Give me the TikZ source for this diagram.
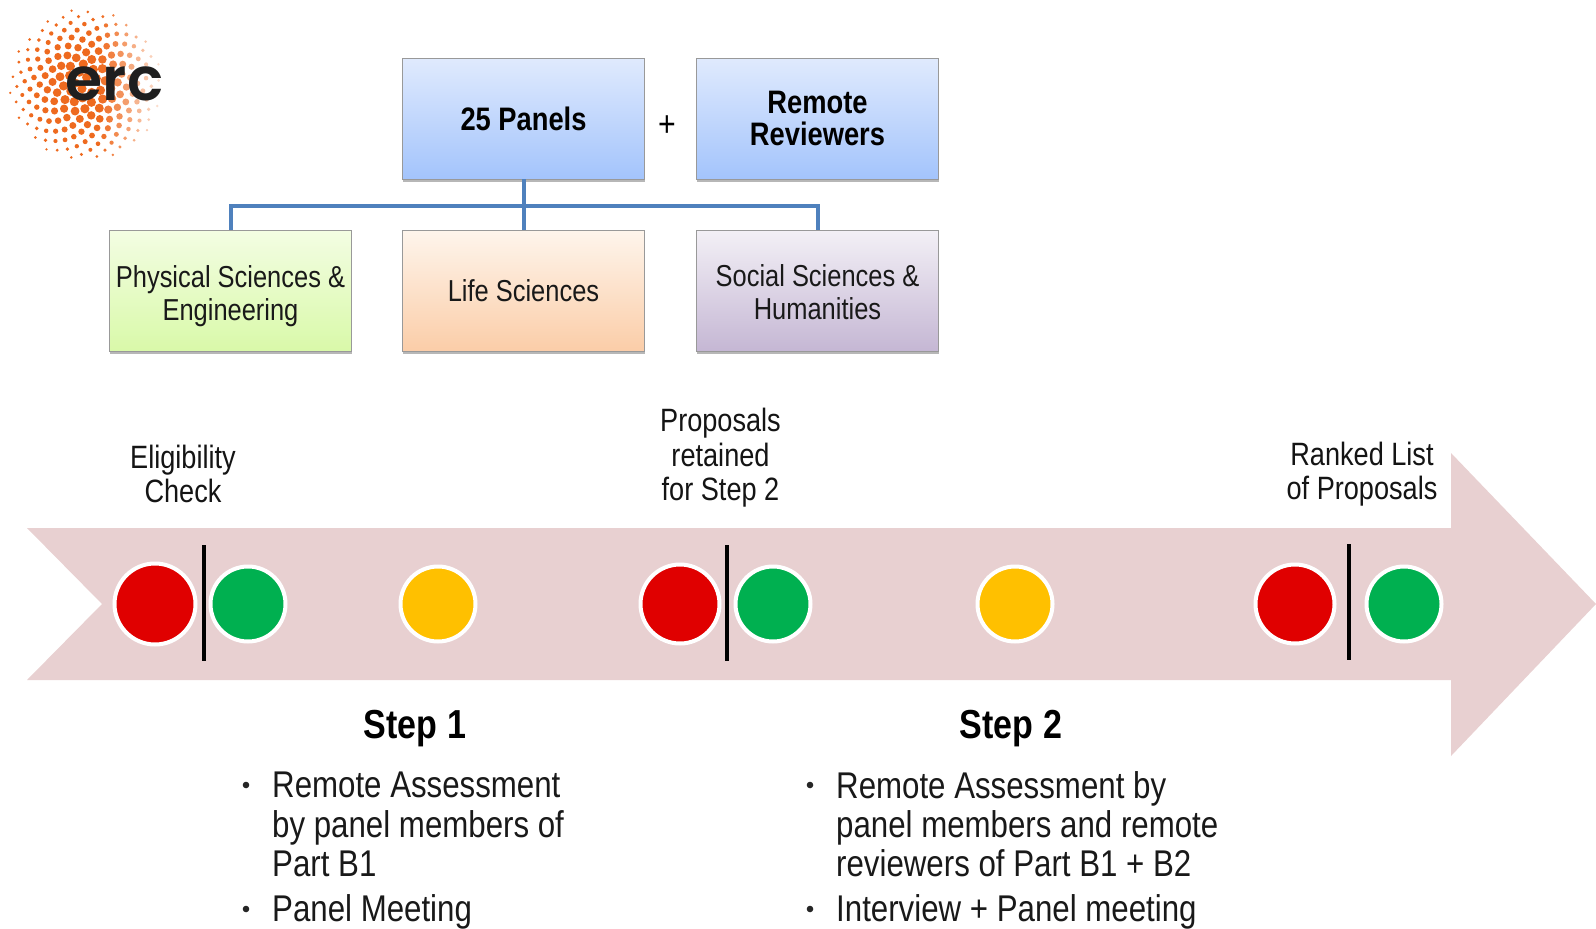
\documentclass[tikz,border=0pt]{standalone}
\usepackage{fontspec}
\setmainfont[FakeStretch=0.84]{Liberation Sans}
\newfontfamily\logofont{Poppins SemiBold}
\usetikzlibrary{shadows}
\definecolor{bandc}{HTML}{E8D0D1}
\definecolor{redc}{HTML}{E00000}
\definecolor{greenc}{HTML}{00B050}
\definecolor{yellowc}{HTML}{FFC000}
\definecolor{linkc}{HTML}{4F81BD}
\definecolor{dotc}{HTML}{EE6A1F}
\definecolor{bluetop}{HTML}{E0EAFD}
\definecolor{bluebot}{HTML}{A3C4FC}
\definecolor{F2top}{HTML}{F3FDE3}
\definecolor{F2bot}{HTML}{D9F9A9}
\definecolor{F3top}{HTML}{FEF5EC}
\definecolor{F3bot}{HTML}{FBCDA8}
\definecolor{F4top}{HTML}{F3F0F6}
\definecolor{F4bot}{HTML}{C5B7D4}
\newcommand{\fs}[1]{\fontsize{#1}{#1}\selectfont}
\tikzset{
  x=1pt,y=-1pt,
  panelbox/.style={draw=black!40,line width=0.9pt,minimum width=242.5pt,minimum height=121pt,inner sep=0pt,align=center,
    drop shadow={shadow xshift=0.5pt,shadow yshift=-3pt,opacity=0.4,fill=black!70}},
  headbox/.style={panelbox,top color=bluetop,bottom color=bluebot,font=\bfseries\fs{32.5}},
  fieldbox/.style={panelbox,font=\fs{30.3},text=black!90},
  link/.style={draw=linkc,line width=4pt},
  lamp/.style={circle,draw=white,line width=4pt,inner sep=0pt},
  divider/.style={draw=black,line width=3.6pt},
  caption/.style={align=center,font=\fs{32.3},text=black!92,inner sep=0pt},
  stephead/.style={font=\bfseries\fs{40.5},inner sep=0pt},
  bulletlist/.style={align=left,font=\fs{37.2},text=black!90,inner sep=0pt,anchor=north west},
}
\begin{document}
\begin{tikzpicture}
\useasboundingbox (0,0) rectangle (1596,929);
% logo
\foreach \n in {1,...,195}{
  \pgfmathsetmacro{\rr}{5.45*sqrt(\n)}
  \pgfmathsetmacro{\aa}{mod(\n*13.7508,36)*10}
  \pgfmathsetmacro{\px}{86+\rr*cos(\aa)}
  \pgfmathsetmacro{\py}{85+\rr*sin(\aa)}
  \pgfmathsetmacro{\ds}{max(1.2,4.6-max(0,\rr-25)*0.065)}
  \pgfmathsetmacro{\op}{min(1,max(0.12,1-max(0,\px-100)*0.0135))}
  \fill[dotc,opacity=\op] (\px,\py) circle[radius=\ds];
}
\node[font=\logofont\fs{60},text=black!88,inner sep=0pt] (logo) at (114.5,84) {erc};
% boxes
\node[headbox] (panels) at (523.5,118.5) {25 Panels};
\node[headbox] (remote) at (817.5,118.5) {Remote\\[0pt]Reviewers};
\node[font=\fs{36},inner sep=0pt] (plus) at (667,126) {+};
\node[fieldbox,top color=F2top,bottom color=F2bot] (phys) at (230.5,290.5) {\rule{0pt}{33pt}Physical Sciences \&\\[2.5pt]Engineering};
\node[fieldbox,top color=F3top,bottom color=F3bot] (life) at (523.5,290.5) {Life Sciences};
\node[fieldbox,top color=F4top,bottom color=F4bot] (soc) at (817.5,290.5) {\rule{0pt}{26pt}Social Sciences \&\\[2.5pt]Humanities};
\coordinate (junc) at (panels.south |- 0,206);
\draw[link] (panels.south) -- (life.north);
\draw[link] (phys.north) |- (junc) -| (soc.north);
% arrow
\fill[bandc] (27,528) -- (1451,528) -- (1451,453) -- (1596,604) -- (1451,756) -- (1451,680) -- (27,680) -- (102,604) -- cycle;
% lamps
\node[lamp,fill=redc,minimum size=81pt] (r1) at (155,604) {};
\node[lamp,fill=greenc,minimum size=75pt] (g1) at (248,604) {};
\node[lamp,fill=yellowc,minimum size=75pt] (y1) at (438,604) {};
\node[lamp,fill=redc,minimum size=79pt] (r2) at (680,604) {};
\node[lamp,fill=greenc,minimum size=75pt] (g2) at (773,604) {};
\node[lamp,fill=yellowc,minimum size=75pt] (y2) at (1015,604) {};
\node[lamp,fill=redc,minimum size=79pt] (r3) at (1295,604) {};
\node[lamp,fill=greenc,minimum size=75pt] (g3) at (1404,604) {};
\draw[divider] (204,545) -- (204,661);
\draw[divider] (727,545) -- (727,661);
\draw[divider] (1349,544) -- (1349,660);
% captions
\node[caption] (c1) at (183,474) {Eligibility\\[1.5pt]Check};
\node[caption] (c2) at (720.5,458) {Proposals\\[2.2pt]retained\\[2.2pt]for Step 2};
\node[caption] (c3) at (1362,474) {Ranked List\\[1.5pt]of Proposals};
\node[stephead] (s1) at (415,729) {Step 1};
\node[stephead] (s2) at (1011,729) {Step 2};
% bullets
\node[bulletlist] (b1a) at (272,772) {Remote Assessment\\[2pt]by panel members of\\[2pt]Part B1};
\node[bulletlist] (b1b) at (272,894) {Panel Meeting};
\node[bulletlist] (b2a) at (836,771) {Remote Assessment by\\[2pt]panel members and remote\\[2pt]reviewers of Part B1 + B2};
\node[bulletlist] (b2b) at (836,894) {Interview + Panel meeting};
\foreach \nm/\bx/\by in {d1/246/785,d2/246/909,d3/810/785,d4/810/909}
  \fill[black!85] (\bx,\by) circle[radius=3.3];
\end{tikzpicture}
\end{document}
